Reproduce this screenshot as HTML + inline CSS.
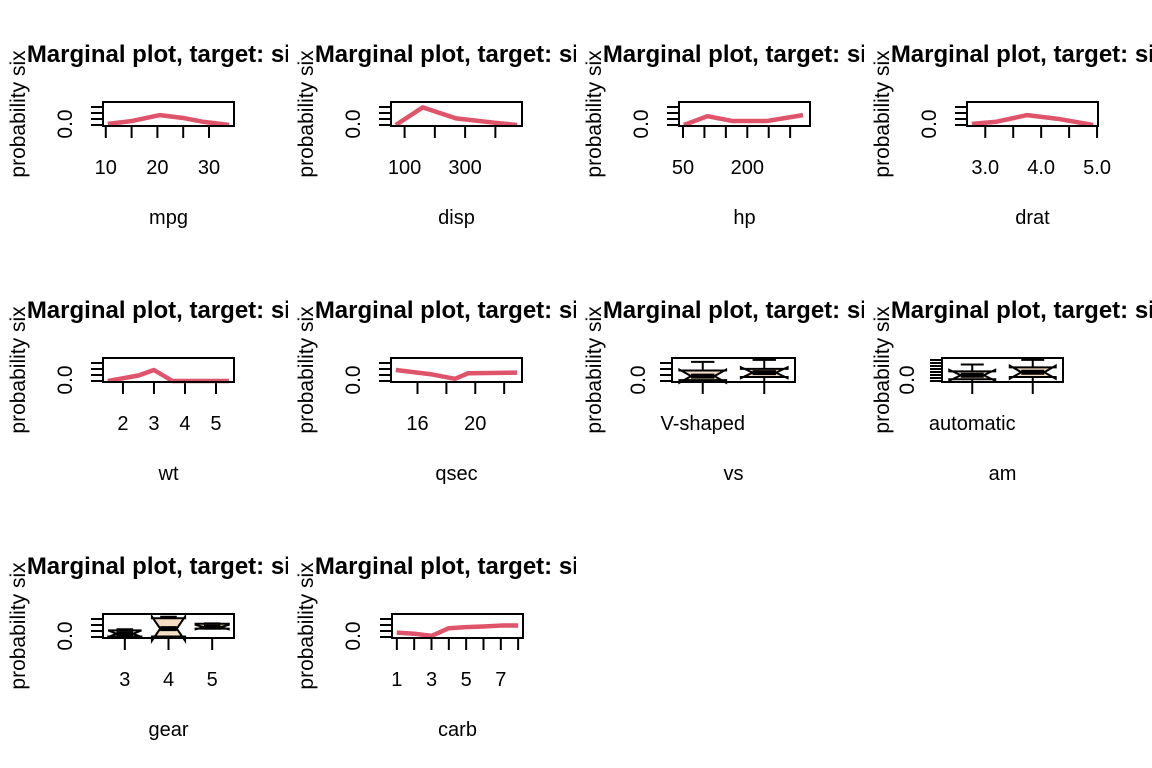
<!DOCTYPE html>
<html><head><meta charset="utf-8"><style>
html,body{margin:0;padding:0;background:#fff;width:1152px;height:768px;overflow:hidden}
svg{display:block;font-family:"Liberation Sans",Arial,sans-serif}
</style></head><body>
<svg id="chart" width="1152" height="768" viewBox="0 0 1152 768" xmlns="http://www.w3.org/2000/svg"></svg>
<script>
// ---- data ----
const mpgX=[10.4,15,20.5,25,29,33.9];      const mpgY=[0.05,0.18,0.45,0.32,0.14,0.0];
const dispX=[71,160,270,400,472];           const dispY=[0,0.8,0.3,0.1,0.0];
const hpX=[52,107,166,245,330];             const hpY=[0,0.4,0.18,0.18,0.45];
const dratX=[2.76,3.2,3.75,4.3,4.93];       const dratY=[0.05,0.15,0.45,0.28,0.0];
const wtX=[1.51,2.5,3.0,3.6,4.5,5.42];      const wtY=[0,0.25,0.5,0.0,0.0,0.0];
const qsecX=[14.5,17,18.6,19.5,22.9];       const qsecY=[0.5,0.3,0.1,0.35,0.38];
const carbX=[1,2,3,4,5,6,7,8];              const carbY=[0.2,0.15,0.05,0.4,0.45,0.48,0.52,0.52];
// boxplot stats: [lowWhisker, q1, median, q3, highWhisker, notchHalf]
const vsCats=["V-shaped","straight"];       const vsStats=[[0,0.04,0.22,0.48,0.87,0.3],[0,0.18,0.38,0.55,0.96,0.25]];
const amCats=["automatic","manual"];        const amStats=[[0,0.08,0.26,0.44,0.75,0.25],[0,0.18,0.4,0.62,0.96,0.3]];
const gearCats=["3","4","5"];               const gearStats=[[0,0.02,0.15,0.3,0.35,0.15],[0,0.02,0.38,0.85,0.92,0.55],[0.35,0.38,0.45,0.6,0.62,0.1]];

const svg=document.getElementById('chart');
const NS='http://www.w3.org/2000/svg';
function mk(tag,attrs,parent){const e=document.createElementNS(NS,tag);for(const k in attrs)e.setAttribute(k,attrs[k]);(parent||svg).appendChild(e);return e;}

const panels=[
 {name:'mpg',col:0,row:0,type:'line',xs:mpgX,ys:mpgY,dom:[10.4,33.9],ticks:[10,15,20,25,30],labels:[10,20,30],fx:[103,234],nt:4},
 {name:'disp',col:1,row:0,type:'line',xs:dispX,ys:dispY,dom:[71.1,472],ticks:[100,200,300,400],labels:[100,300],fx:[103,234],nt:4},
 {name:'hp',col:2,row:0,type:'line',xs:hpX,ys:hpY,dom:[52,335],ticks:[50,100,150,200,250,300],labels:[50,200],fx:[103,234],nt:4},
 {name:'drat',col:3,row:0,type:'line',xs:dratX,ys:dratY,dom:[2.76,4.93],ticks:[3.0,3.5,4.0,4.5,5.0],labels:['3.0','4.0','5.0'],fx:[103,234],nt:4},
 {name:'wt',col:0,row:1,type:'line',xs:wtX,ys:wtY,dom:[1.513,5.424],ticks:[2,3,4,5],labels:[2,3,4,5],fx:[103,234],nt:4},
 {name:'qsec',col:1,row:1,type:'line',xs:qsecX,ys:qsecY,dom:[14.5,22.9],ticks:[16,18,20,22],labels:[16,20],fx:[103,234],nt:4},
 {name:'vs',col:2,row:1,type:'box',cats:vsCats,stats:vsStats,labelIdx:[0],fx:[96,219],nt:4,yl:62},
 {name:'am',col:3,row:1,type:'box',cats:amCats,stats:amStats,labelIdx:[0],fx:[78,199],nt:8,yl:43},
 {name:'gear',col:0,row:2,type:'box',cats:gearCats,stats:gearStats,labelIdx:[0,1,2],fx:[103,234],nt:4},
 {name:'carb',col:1,row:2,type:'line',xs:carbX,ys:carbY,dom:[1,8],ticks:[1,2,3,4,5,6,7,8],labels:[1,3,5,7],fx:[104,235],nt:4}
];

panels.forEach((p,i)=>{
  const ox=p.col*288, oy=p.row*256;
  const g=mk('g',{transform:`translate(${ox},${oy})`});
  
  
  const cp=mk('clipPath',{id:'cp'+i},g); mk('rect',{x:0,y:0,width:288,height:256},cp);
  const x0=p.fx[0], x1=p.fx[1], top=102, bot=126;
  const yS=v=>bot-1-v*22;
  const cx=(x0+x1)/2;
  const t=mk('text',{x:165.5,y:62,'text-anchor':'middle','font-size':24,'font-weight':'bold','clip-path':`url(#cp${i})`},g);
  t.textContent='Marginal plot, target: six';
  
  
  const yl=mk('text',{transform:'translate(25,114) rotate(-90)','text-anchor':'middle','font-size':21},g);
  yl.textContent='probability six';
  
  
  const z=mk('text',{transform:`translate(${(p.yl||65)+7},124) rotate(-90)`,'text-anchor':'middle','font-size':21},g);
  z.textContent='0.0';
  
  
  const s=p.nt>4?3:6;
  for(let k=0;k<p.nt;k++){const yy=bot-1-k*s; mk('line',{x1:x0-12,x2:x0,y1:yy,y2:yy,stroke:'#000','stroke-width':2},g);}
  const xl=mk('text',{x:cx,y:224,'text-anchor':'middle','font-size':20},g);
  xl.textContent=p.name;
  
  
  if(p.type==='line'){
    const d=p.dom, pad=(d[1]-d[0])*0.04;
    const xS=v=>x0+(v-(d[0]-pad))/((d[1]+pad)-(d[0]-pad))*(x1-x0);
    p.ticks.forEach(v=>mk('line',{x1:xS(v),x2:xS(v),y1:bot,y2:bot+12,stroke:'#000','stroke-width':2},g));
    p.labels.forEach(v=>{const tt=mk('text',{x:xS(+v),y:174,'text-anchor':'middle','font-size':20},g);tt.textContent=v;
      
      });
    const pts=p.xs.map((v,k)=>xS(v)+','+yS(p.ys[k])).join(' ');
    const pl=mk('polyline',{points:pts,fill:'none',stroke:'#DF536B','stroke-width':4.5,'stroke-linejoin':'round'},g);
    
    
  } else {
    const n=p.cats.length;
    const xS=k=>x0+(k+0.5)*(x1-x0)/n;
    const w=(x1-x0)/n*0.38;
    p.cats.forEach((c,k)=>mk('line',{x1:xS(k),x2:xS(k),y1:bot,y2:bot+12,stroke:'#000','stroke-width':2},g));
    p.labelIdx.forEach(k=>{const tt=mk('text',{x:xS(k),y:174,'text-anchor':'middle','font-size':20},g);tt.textContent=p.cats[k];
      
      });
    p.stats.forEach((st,k)=>{
      const c=xS(k);
      const [lo,q1,md,q3,hi,nh]=st;
      const bg=mk('g',{},g);
      
      
      mk('line',{x1:c,x2:c,y1:yS(hi),y2:yS(q3),stroke:'#000','stroke-width':2},bg);
      mk('line',{x1:c-w/2,x2:c+w/2,y1:yS(hi),y2:yS(hi),stroke:'#000','stroke-width':2},bg);
      mk('line',{x1:c,x2:c,y1:yS(q1),y2:yS(lo),stroke:'#000','stroke-width':2},bg);
      const nlo=yS(md-nh), nhi=yS(md+nh);
      const pts=[[c-w,yS(q1)],[c-w,nlo],[c-w/2,yS(md)],[c-w,nhi],[c-w,yS(q3)],[c+w,yS(q3)],[c+w,nhi],[c+w/2,yS(md)],[c+w,nlo],[c+w,yS(q1)]].map(a=>a.join(',')).join(' ');
      mk('polygon',{points:pts,fill:'#F5DEC3',stroke:'#000','stroke-width':2},bg);
      mk('line',{x1:c-w/2,x2:c+w/2,y1:yS(md),y2:yS(md),stroke:'#000','stroke-width':5},bg);
    });
  }
  const fr=mk('rect',{x:x0,y:top,width:x1-x0,height:bot-top,fill:'none',stroke:'#000','stroke-width':2},g);
  
  
});
</script>
</body></html>
